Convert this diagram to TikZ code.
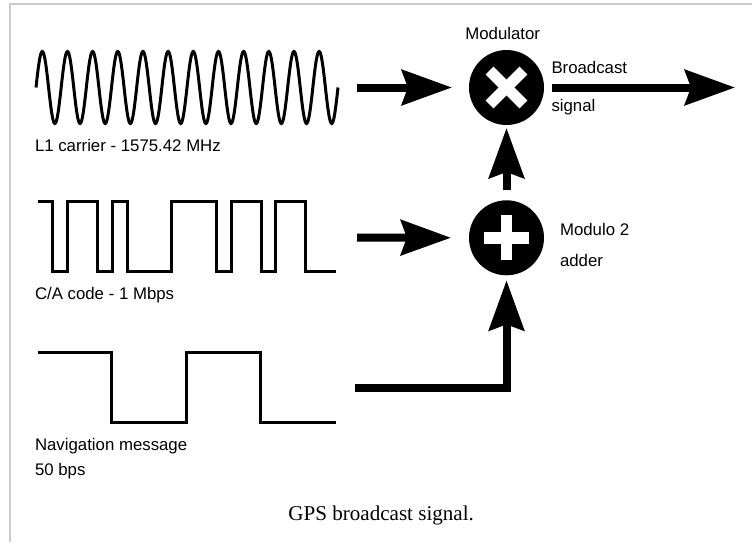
\documentclass[tikz,border=0pt]{standalone}
\usepackage{fontspec}
\setmainfont{Liberation Sans}
\newfontfamily\capfont{Liberation Serif}
\usetikzlibrary{arrows.meta}
\begin{document}
\begin{tikzpicture}[x=0.75pt,y=-0.75pt,
  wave/.style={line width=2.25pt},
  lab/.style={font=\fontsize{12.6}{15}\selectfont, inner sep=0pt, outer sep=0pt},
  opnode/.style={circle, fill=black, minimum size=56.25pt, inner sep=0pt, outer sep=0pt},
  bigarrow/.style={line width=6pt, -{Stealth[length=37.5pt,width=26.25pt,inset=4.5pt]}},
  frameline/.style={draw=black!20, line width=0.9pt},
  sym/.style={fill=white}]
\useasboundingbox (0,0) rectangle (752,542);
% frame
\draw[frameline] (10,542) -- (10,4) -- (752,4);

% L1 carrier
\draw[wave] plot[domain=0:4320, samples=481, smooth] ({36+\x/4320*302}, {87.5-36*sin(\x)});
\node[lab, anchor=base west] (l1lab) at (35,151.7) {L1 carrier - 1575.42 MHz};

% C/A code
\draw[wave] (37.5,201.7) -- (52.4,201.7) -- (52.4,271.7) -- (67.3,271.7) -- (67.3,201.7)
  -- (97.1,201.7) -- (97.1,271.7) -- (112,271.7) -- (112,201.7) -- (127,201.7)
  -- (127,271.7) -- (171.6,271.7) -- (171.6,201.7) -- (216.3,201.7) -- (216.3,271.7)
  -- (231.2,271.7) -- (231.2,201.7) -- (261,201.7) -- (261,271.7) -- (275.9,271.7)
  -- (275.9,201.7) -- (305.7,201.7) -- (305.7,271.7) -- (335.5,271.7);
\node[lab, anchor=base west] (calab) at (35,299.3) {C/A code - 1 Mbps};

% Navigation message
\draw[wave] (37.5,352.5) -- (111.7,352.5) -- (111.7,422.5) -- (186.4,422.5) -- (186.4,352.5)
  -- (260.7,352.5) -- (260.7,422.5) -- (335.5,422.5);
\node[lab, anchor=base west] (navlab1) at (35,450.7) {Navigation message};
\node[lab, anchor=base west] (navlab2) at (35,475) {50 bps};

% operators
\node[opnode] (mod) at (506.5,87.5) {};
\node[opnode] (add) at (506.5,237.8) {};
\begin{scope}[shift={(mod.center)}, rotate=45]
  \fill[sym] (-24,-5.5) rectangle (24,5.5);
  \fill[sym] (-5.5,-24) rectangle (5.5,24);
\end{scope}
\begin{scope}[shift={(add.center)}]
  \fill[sym] (-22.5,-5.8) rectangle (22.5,5.8);
  \fill[sym] (-5.6,-22.5) rectangle (5.6,22.5);
\end{scope}
\node[lab, anchor=base] (modlab) at (502.7,40) {Modulator};
\node[lab, anchor=base west] (bclab1) at (551.5,74) {Broadcast};
\node[lab, anchor=base west] (bclab2) at (551.5,111.7) {signal};
\node[lab, anchor=base west] (addlab1) at (560,235) {Modulo 2};
\node[lab, anchor=base west] (addlab2) at (560,266) {adder};

% connectors
\coordinate (s1) at (357,87.5);
\coordinate (s2) at (357,237.5);
\coordinate (s3) at (355,387.5);
\coordinate (out) at (735,87.5);
\draw[bigarrow, shorten >=12.8pt] (s1) -- (mod.west);
\draw[bigarrow, shorten >=13.5pt] (s2) -- (add.west);
\draw[bigarrow, shorten >=3.8pt] (s3) -| (add.south);
\draw[bigarrow, shorten <=7.5pt, shorten >=2.25pt] (add.north) -- (mod.south);
\draw[bigarrow, shorten <=6pt] (mod.east) -- (out);

% caption
\node[inner sep=0pt, anchor=base, font={\capfont\fontsize{15.8}{18}\selectfont}] (cap) at (381.2,520) {GPS broadcast signal.};
\end{tikzpicture}
\end{document}
